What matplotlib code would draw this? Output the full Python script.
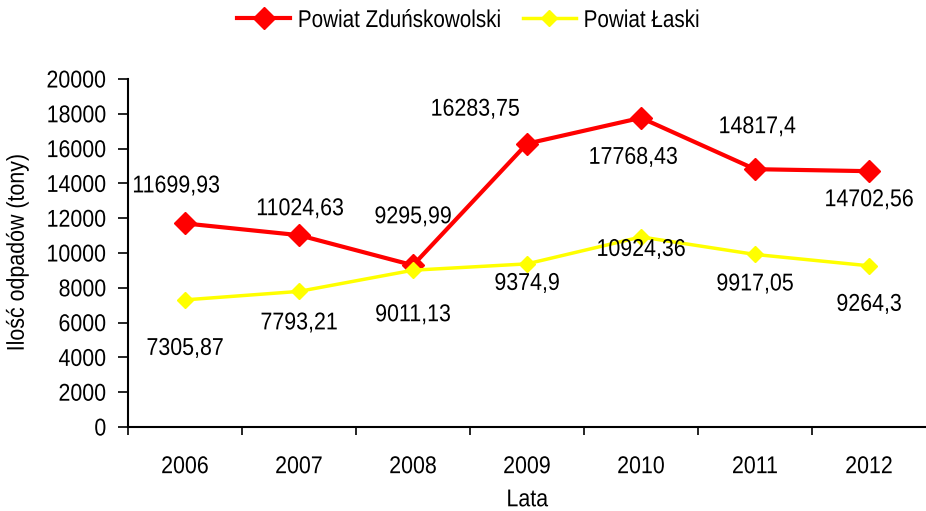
import matplotlib
matplotlib.use("Agg")
import matplotlib.pyplot as plt
from matplotlib.ticker import FixedLocator
from matplotlib.patheffects import AbstractPathEffect
from matplotlib.transforms import Affine2D

plt.rcParams['font.family'] = ['Liberation Sans', 'DejaVu Sans']

years = ['2006', '2007', '2008', '2009', '2010', '2011', '2012']
zdunska = [11699.93, 11024.63, 9295.99, 16283.75, 17768.43, 14817.4, 14702.56]
laski = [7305.87, 7793.21, 9011.13, 9374.9, 10924.36, 9917.05, 9264.3]
series_names = ['Powiat Zduńskowolski', 'Powiat Łaski']

# label offsets in pixels (dx, dy)
off_z = [(-9, 37), (1, 26), (0, 48), (-52, 34), (-8, -40), (2, 42), (0, -29)]
off_l = [(0, -49), (0, -32), (0, -45), (0, -20), (0, -13), (0, -30), (0, -39)]


class Condense(AbstractPathEffect):
    """Narrow the text horizontally (Arial Narrow look)."""
    def __init__(self, sx=0.88, anchor='center'):
        super().__init__()
        self.sx = sx
        self.anchor = anchor

    def draw_path(self, renderer, gc, tpath, affine, rgbFace=None):
        if len(tpath.vertices) == 0:
            return
        ext = tpath.get_extents()
        if self.anchor == 'center':
            cx = (ext.x0 + ext.x1) / 2
        elif self.anchor == 'right':
            cx = ext.x1
        else:
            cx = ext.x0
        t = Affine2D().translate(-cx, 0).scale(self.sx, 1).translate(cx, 0) + affine
        renderer.draw_path(gc, tpath, t, rgbFace)


SX = 0.88
fs = 17.5
fig = plt.figure(figsize=(9.26, 5.11), dpi=100)
ax = fig.add_axes([128/926, 1-427/511, 1-128/926, (427-79)/511])

x = list(range(len(years)))
ax.plot(x, zdunska, color='#FF0000', lw=3, marker='D', ms=11.5, label=series_names[0], zorder=3)
ax.plot(x, laski, color='#FFFF00', lw=2.5, marker='D', ms=8, label=series_names[1], zorder=3)


def fmt(v):
    return str(v).replace('.', ',')


for xi, v, o in zip(x, zdunska, off_z):
    t = ax.annotate(fmt(v), (xi, v), xytext=o, textcoords='offset pixels',
                    ha='center', va='center', fontsize=fs)
    t.set_path_effects([Condense(SX, 'center')])
for xi, v, o in zip(x, laski, off_l):
    t = ax.annotate(fmt(v), (xi, v), xytext=o, textcoords='offset pixels',
                    ha='center', va='center', fontsize=fs)
    t.set_path_effects([Condense(SX, 'center')])

ax.set_xlim(-0.5, len(years) - 0.5)
ax.set_ylim(0, 20000)
ax.set_yticks(range(0, 20001, 2000))
ax.tick_params(axis='y', labelsize=fs, length=7, width=1.2, direction='out', pad=8.5)
ax.set_xticks(x)
ax.set_xticklabels(years)
ax.tick_params(axis='x', which='major', length=0, labelsize=fs, pad=21)
ax.xaxis.set_minor_locator(FixedLocator([i - 0.5 for i in range(len(years))]))
ax.tick_params(axis='x', which='minor', length=5.8, width=1.2, direction='out')
for s in ['top', 'right']:
    ax.spines[s].set_visible(False)
for s in ['left', 'bottom']:
    ax.spines[s].set_linewidth(1.5)

yl = ax.set_ylabel('Ilość odpadów (tony)', fontsize=fs, labelpad=7)
xl = ax.set_xlabel('Lata', fontsize=fs, labelpad=8)
yl.set_path_effects([Condense(SX, 'center')])
xl.set_path_effects([Condense(SX, 'center')])

leg = fig.legend(loc='center', bbox_to_anchor=(478/926, 1 - 21/511), bbox_transform=fig.transFigure,
                 ncol=2, frameon=False, fontsize=fs, handlelength=2.2, columnspacing=-0.55,
                 handletextpad=0.3, borderpad=0)
for t in leg.get_texts():
    t.set_path_effects([Condense(0.85, 'left')])

fig.canvas.draw()
for lbl in ax.get_yticklabels():
    lbl.set_path_effects([Condense(SX, 'right')])
for lbl in ax.get_xticklabels():
    lbl.set_path_effects([Condense(SX, 'center')])

fig.savefig('out.png', dpi=100)
